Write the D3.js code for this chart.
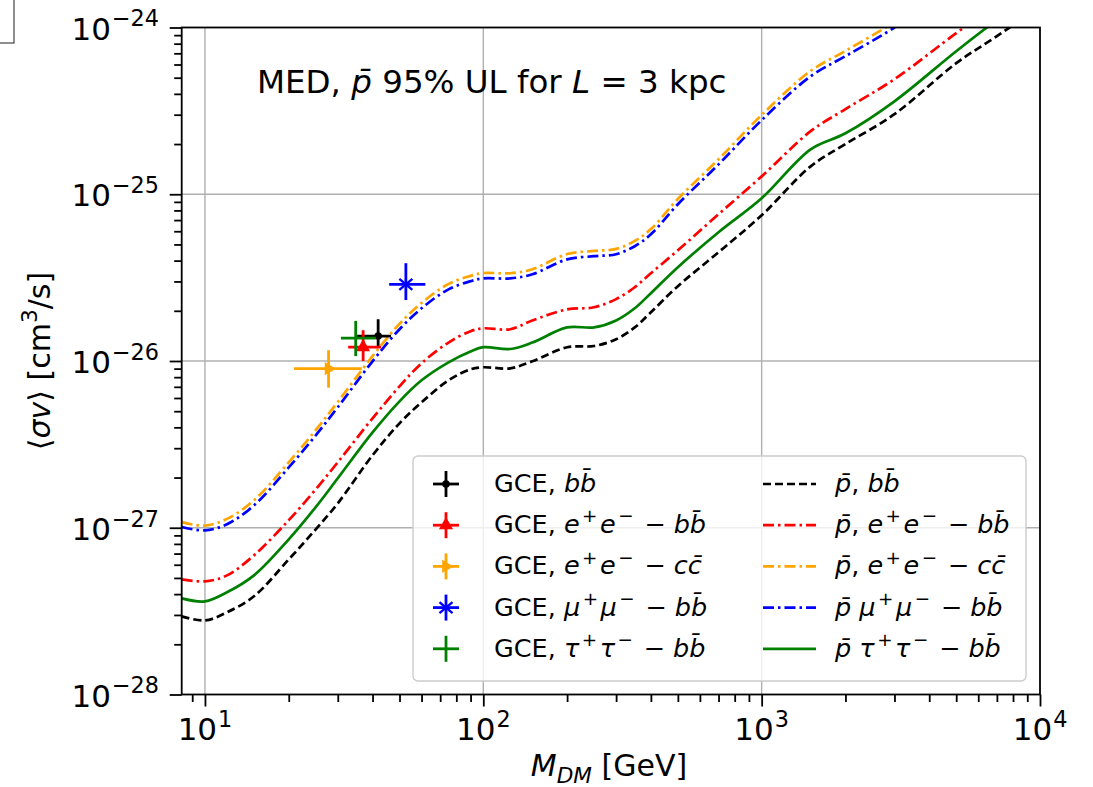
<!DOCTYPE html>
<html>
<head>
<meta charset="utf-8">
<script src="https://cdn.jsdelivr.net/npm/d3@7"></script>
<style>
  body { margin: 0; background: #fff; }
  svg { display: block; font-family: "DejaVu Sans", sans-serif; }
  text { white-space: pre; }
</style>
</head>
<body>
<svg id="chart" width="1093" height="787"></svg>
<script>
// values (mass in GeV, <sigma v> in cm^3/s)
const massGeV = [8.25, 10, 12, 15, 20, 25, 30, 40, 50, 60, 75, 90, 100, 125, 150, 200, 250, 300, 350, 400, 500, 700, 1000, 1500, 2000, 3000, 5000, 7000, 10000];

const pbarBB = [2.94e-28, 2.78e-28, 3.11e-28, 3.88e-28, 6.46e-28, 9.78e-28, 1.40e-27, 2.72e-27, 4.23e-27, 5.65e-27, 7.66e-27, 8.92e-27, 9.17e-27, 9.04e-27, 9.96e-27, 1.21e-26, 1.23e-26, 1.35e-26, 1.59e-26, 1.96e-26, 2.81e-26, 4.49e-26, 7.48e-26, 1.47e-25, 2.0e-25, 3.02e-25, 6.11e-25, 8.87e-25, 1.34e-24];
const pbarEEBB = [4.90e-28, 4.77e-28, 5.18e-28, 6.83e-28, 1.11e-27, 1.70e-27, 2.47e-27, 4.53e-27, 7.05e-27, 9.69e-27, 1.29e-26, 1.51e-26, 1.57e-26, 1.55e-26, 1.75e-26, 2.04e-26, 2.10e-26, 2.35e-26, 2.77e-26, 3.36e-26, 4.61e-26, 7.59e-26, 1.28e-25, 2.39e-25, 3.24e-25, 4.90e-25, 9.25e-25, 1.38e-24, 2.09e-24];
const pbarEECC = [1.08e-27, 1.03e-27, 1.13e-27, 1.46e-27, 2.47e-27, 3.85e-27, 5.68e-27, 1.07e-26, 1.67e-26, 2.23e-26, 2.90e-26, 3.24e-26, 3.37e-26, 3.36e-26, 3.55e-26, 4.38e-26, 4.57e-26, 4.70e-26, 5.25e-26, 6.18e-26, 9.37e-26, 1.62e-25, 2.99e-25, 5.49e-25, 7.24e-25, 1.08e-24, 1.96e-24, 2.76e-24, 3.90e-24];
const pbarMuMuBB = [1.01e-27, 9.65e-28, 1.05e-27, 1.36e-27, 2.30e-27, 3.58e-27, 5.28e-27, 9.96e-27, 1.55e-26, 2.07e-26, 2.69e-26, 3.01e-26, 3.13e-26, 3.13e-26, 3.31e-26, 4.07e-26, 4.25e-26, 4.37e-26, 4.88e-26, 5.75e-26, 8.71e-26, 1.51e-25, 2.78e-25, 5.10e-25, 6.73e-25, 1.0e-24, 1.82e-24, 2.57e-24, 3.63e-24];
const pbarTauTauBB = [3.77e-28, 3.62e-28, 4.10e-28, 5.18e-28, 8.52e-28, 1.33e-27, 1.98e-27, 3.73e-27, 5.73e-27, 7.66e-27, 9.82e-27, 1.14e-26, 1.21e-26, 1.18e-26, 1.29e-26, 1.59e-26, 1.59e-26, 1.75e-26, 2.07e-26, 2.55e-26, 3.65e-26, 5.92e-26, 9.46e-26, 1.86e-25, 2.32e-25, 3.61e-25, 7.21e-25, 1.11e-24, 1.70e-24];

// GCE best fits: b bbar, e+e- bbar, e+e- cbar, mu+mu- bbar, tau+tau- bbar
const gceMass = [41.9, 37.0, 27.8, 52.7, 34.8];
const gceMassLo = [35.2, 32.7, 20.9, 45.9, 30.8];
const gceMassHi = [46.6, 42.9, 36.6, 61.9, 41.1];
const gceSigma = [1.41e-26, 1.21e-26, 9.0e-27, 2.88e-26, 1.37e-26];
const gceSigmaLo = [1.21e-26, 1.0e-26, 6.92e-27, 2.32e-26, 1.07e-26];
const gceSigmaHi = [1.78e-26, 1.53e-26, 1.16e-26, 3.86e-26, 1.74e-26];

const xMajor = [10, 100, 1000, 10000];
const yMajor = [1e-28, 1e-27, 1e-26, 1e-25, 1e-24];

const sup = (s) => [s, "sup"];
const it = (s) => [s, "i"];
const bb = it("bb\u0304");
const cc = it("cc\u0304");
const pb = it("p\u0304");

const gceLabels = [
  [["GCE, "], bb],
  [["GCE, "], it("e"), sup("+"), it("e"), sup("\u2212"), [" \u2212 "], bb],
  [["GCE, "], it("e"), sup("+"), it("e"), sup("\u2212"), [" \u2212 "], cc],
  [["GCE, "], it("\u03bc"), sup("+"), it("\u03bc"), sup("\u2212"), [" \u2212 "], bb],
  [["GCE, "], it("\u03c4"), sup("+"), it("\u03c4"), sup("\u2212"), [" \u2212 "], bb]
];
const curveLabels = [
  [pb, [", "], bb],
  [pb, [", "], it("e"), sup("+"), it("e"), sup("\u2212"), [" \u2212 "], bb],
  [pb, [", "], it("e"), sup("+"), it("e"), sup("\u2212"), [" \u2212 "], cc],
  [pb, [" "], it("\u03bc"), sup("+"), it("\u03bc"), sup("\u2212"), [" \u2212 "], bb],
  [pb, [" "], it("\u03c4"), sup("+"), it("\u03c4"), sup("\u2212"), [" \u2212 "], bb]
];

const colors = ["#000000", "#ff0000", "#ffa500", "#0000ff", "#008000"];
const dashes = ["8,4", "11,4,2.5,4", "11,4,2.5,4", "11,4,2.5,4", null];
const markers = ["dot", "triUp", "triRight", "star", "plus"];
const curves = [pbarBB, pbarEEBB, pbarEECC, pbarMuMuBB, pbarTauTauBB];

const plot = { left: 181.7, right: 1040, top: 27.5, bottom: 694.5 };
const svg = d3.select("#chart");

const x = d3.scaleLog().domain([8.25, 1e4]).range([plot.left, plot.right]);
const y = d3.scaleLog().domain([1e-28, 1e-24]).range([plot.bottom, plot.top]);

// text with italic / superscript / subscript pieces
function mathText(sel, parts, size, supGap) {
  let shift = 0;
  const gap = supGap || 0;
  parts.forEach(p => {
    const str = p[0], st = p[1] || "";
    let target = 0, fs = size;
    if (st.includes("sup")) { target = -0.42 * size; fs = 0.72 * size; }
    if (st.includes("sub")) { target = 0.24 * size; fs = 0.72 * size; }
    sel.append("tspan")
      .attr("dx", target !== shift ? gap : 0)
      .attr("dy", target - shift)
      .attr("font-size", fs)
      .attr("font-style", st.startsWith("i") ? "italic" : "normal")
      .text(str);
    shift = target;
  });
  return sel;
}

function supLabel(v) {
  return [["10"], sup("\u2212" + Math.round(-Math.log10(v)))];
}

// stray box in the top left corner of the original figure
svg.append("rect")
  .attr("x", -2).attr("y", -2).attr("width", 16).attr("height", 45)
  .attr("fill", "none").attr("stroke", "#444").attr("stroke-width", 1.2);

svg.append("clipPath").attr("id", "clip")
  .append("rect")
  .attr("x", plot.left).attr("y", plot.top)
  .attr("width", plot.right - plot.left).attr("height", plot.bottom - plot.top);

// grid
const grid = svg.append("g").attr("stroke", "#b0b0b0").attr("stroke-width", 1.4);
grid.selectAll("line.v")
  .data([10, 100, 1000])
  .enter().append("line")
  .attr("x1", d => x(d)).attr("x2", d => x(d))
  .attr("y1", plot.top).attr("y2", plot.bottom);
grid.selectAll("line.h")
  .data([1e-27, 1e-26, 1e-25])
  .enter().append("line")
  .attr("y1", d => y(d)).attr("y2", d => y(d))
  .attr("x1", plot.left).attr("x2", plot.right);

// curves
const line = d3.line()
  .x(d => x(d[0]))
  .y(d => y(d[1]))
  .curve(d3.curveCatmullRom.alpha(0.5));

const curveG = svg.append("g").attr("clip-path", "url(#clip)");
curves.forEach((vals, i) => {
  curveG.append("path")
    .datum(massGeV.map((m, j) => [m, vals[j]]))
    .attr("d", line)
    .attr("fill", "none")
    .attr("stroke", colors[i])
    .attr("stroke-width", 2.7)
    .attr("stroke-dasharray", dashes[i]);
});

function drawMarker(g, kind, cx, cy, color) {
  if (kind === "dot") {
    g.append("circle").attr("cx", cx).attr("cy", cy).attr("r", 3.8).attr("fill", color);
  } else if (kind === "triUp") {
    g.append("path")
      .attr("d", d3.symbol(d3.symbolTriangle, 85)())
      .attr("transform", `translate(${cx},${cy})`)
      .attr("fill", color);
  } else if (kind === "triRight") {
    g.append("path")
      .attr("d", d3.symbol(d3.symbolTriangle, 75)())
      .attr("transform", `translate(${cx},${cy}) rotate(90)`)
      .attr("fill", color);
  } else if (kind === "star") {
    [40, -40].forEach(a => {
      const r = 8.5, dx = r * Math.cos(a * Math.PI / 180), dy = r * Math.sin(a * Math.PI / 180);
      g.append("line")
        .attr("x1", cx - dx).attr("x2", cx + dx)
        .attr("y1", cy - dy).attr("y2", cy + dy)
        .attr("stroke", color).attr("stroke-width", 2.4);
    });
  }
}

// GCE points with error bars
const pts = svg.append("g");
gceMass.forEach((m, i) => {
  const g = pts.append("g");
  g.append("line")
    .attr("x1", x(gceMassLo[i])).attr("x2", x(gceMassHi[i]))
    .attr("y1", y(gceSigma[i])).attr("y2", y(gceSigma[i]))
    .attr("stroke", colors[i]).attr("stroke-width", 2.8);
  g.append("line")
    .attr("x1", x(m)).attr("x2", x(m))
    .attr("y1", y(gceSigmaLo[i])).attr("y2", y(gceSigmaHi[i]))
    .attr("stroke", colors[i]).attr("stroke-width", 2.8);
  drawMarker(g, markers[i], x(m), y(gceSigma[i]), colors[i]);
});

// frame
svg.append("rect")
  .attr("x", plot.left).attr("y", plot.top)
  .attr("width", plot.right - plot.left).attr("height", plot.bottom - plot.top)
  .attr("fill", "none").attr("stroke", "#000").attr("stroke-width", 1.8);

// ticks
const xMinor = [];
[1, 10, 100, 1000].forEach(p => d3.range(2, 10).forEach(k => {
  const v = k * p;
  if (v >= 8.25 && v <= 1e4 && v !== 10) xMinor.push(v);
}));
const yMinor = [];
[1e-28, 1e-27, 1e-26, 1e-25].forEach(p => d3.range(2, 10).forEach(k => yMinor.push(k * p)));

function tickAxis(axis, vals, size, transform) {
  const g = svg.append("g")
    .attr("transform", transform)
    .call(axis.tickValues(vals).tickSize(size).tickFormat(""));
  g.select(".domain").remove();
  g.selectAll(".tick line").attr("stroke", "#000").attr("stroke-width", 1.8);
  return g;
}
tickAxis(d3.axisBottom(x), xMajor, 12, `translate(0,${plot.bottom})`);
tickAxis(d3.axisBottom(x), xMinor, 7.5, `translate(0,${plot.bottom})`);
tickAxis(d3.axisLeft(y), yMajor, 12, `translate(${plot.left},0)`);
tickAxis(d3.axisLeft(y), yMinor, 7.5, `translate(${plot.left},0)`);

// tick labels
xMajor.forEach(v => {
  mathText(svg.append("text")
    .attr("x", x(v)).attr("y", 740)
    .attr("text-anchor", "middle"),
    [["10"], sup(String(Math.round(Math.log10(v))))], 31, 1);
});
yMajor.forEach(v => {
  mathText(svg.append("text")
    .attr("x", 159).attr("y", y(v) + 12)
    .attr("text-anchor", "end"),
    supLabel(v), 31, 1);
});

// axis labels and title
mathText(svg.append("text")
  .attr("x", 609).attr("y", 776)
  .attr("text-anchor", "middle"),
  [it("M"), ["DM", "isub"], [" [GeV]"]], 30);

mathText(svg.append("text")
  .attr("transform", "translate(50,361) rotate(-90)")
  .attr("text-anchor", "middle"),
  [["\u27e8"], it("\u03c3v"), ["\u27e9 [cm"], sup("3"), ["/s]"]], 30);

mathText(svg.append("text")
  .attr("x", 257).attr("y", 93),
  [["MED, "], pb, [" 95% UL for "], it("L"), [" = 3 kpc"]], 32.5);

// legend
const legend = svg.append("g");
legend.append("rect")
  .attr("x", 413).attr("y", 456).attr("width", 613).attr("height", 225)
  .attr("rx", 5)
  .attr("fill", "#fff").attr("fill-opacity", 0.8)
  .attr("stroke", "#cccccc").attr("stroke-width", 1.4);

const rowBase = d3.range(5).map(i => 492 + i * 41.2);
rowBase.forEach((by, i) => {
  const cy = by - 8;
  const g = legend.append("g");
  g.append("line").attr("x1", 433).attr("x2", 459).attr("y1", cy).attr("y2", cy)
    .attr("stroke", colors[i]).attr("stroke-width", 2.8);
  g.append("line").attr("x1", 446).attr("x2", 446).attr("y1", cy - 13).attr("y2", cy + 13)
    .attr("stroke", colors[i]).attr("stroke-width", 2.8);
  drawMarker(g, markers[i], 446, cy, colors[i]);
  mathText(g.append("text").attr("x", 494).attr("y", by), gceLabels[i], 25.5, 2.5);

  g.append("line").attr("x1", 763).attr("x2", 816).attr("y1", cy).attr("y2", cy)
    .attr("stroke", colors[i]).attr("stroke-width", 2.7)
    .attr("stroke-dasharray", dashes[i]);
  mathText(g.append("text").attr("x", 835).attr("y", by), curveLabels[i], 25.5, 2.5);
});
</script>
</body>
</html>
